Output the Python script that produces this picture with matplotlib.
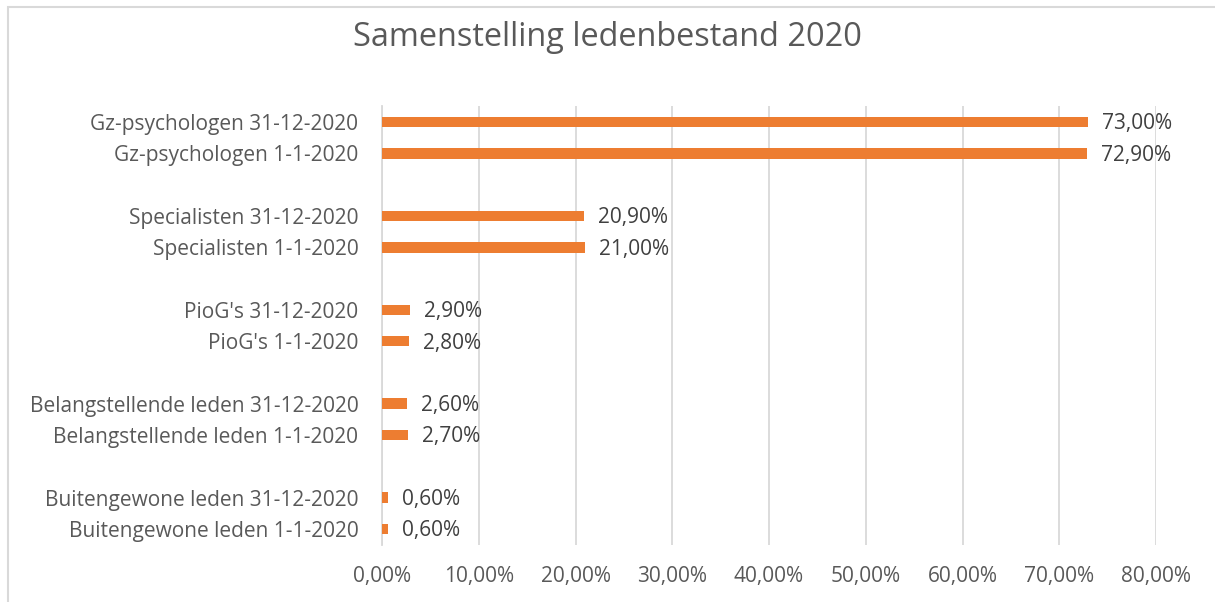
import numpy as np
import matplotlib.pyplot as plt
from matplotlib.patches import Rectangle
from matplotlib.ticker import FuncFormatter

plt.rcParams['font.family'] = ['Open Sans', 'DejaVu Sans']

# categorieën van boven naar onder, lege rijen tussen de groepen
categories = [
    'Gz-psychologen 31-12-2020', 'Gz-psychologen 1-1-2020', '',
    'Specialisten 31-12-2020', 'Specialisten 1-1-2020', '',
    "PioG's 31-12-2020", "PioG's 1-1-2020", '',
    'Belangstellende leden 31-12-2020', 'Belangstellende leden 1-1-2020', '',
    'Buitengewone leden 31-12-2020', 'Buitengewone leden 1-1-2020',
]
values = [73.0, 72.9, None,
          20.9, 21.0, None,
          2.9, 2.8, None,
          2.6, 2.7, None,
          0.6, 0.6]
xticks = [0, 10, 20, 30, 40, 50, 60, 70, 80]

orange = '#ED7D31'
grey_text = '#595959'

fig = plt.figure(figsize=(12.15, 6.02), dpi=100)
# rand van de grafiek
fig.patches.append(Rectangle((8 / 1215, -0.1), 1.2, 1 - 7 / 602 + 0.1,
                             transform=fig.transFigure, fill=False,
                             edgecolor='#D9D9D9', linewidth=1.5))

ax = fig.add_axes([382 / 1215, 1 - 544.7 / 602, 774 / 1215, 438.4 / 602])

y = np.arange(len(categories))
for yi, v in zip(y, values):
    if v is None:
        continue
    ax.barh(yi, v, height=0.34, color=orange, zorder=3)
    ax.text(v + 1.45, yi + 0.06, f'{v:.2f}%'.replace('.', ','), va='center',
            ha='left', fontsize=15, color='#404040', zorder=4)

ax.set_ylim(len(categories) - 0.5, -0.5)
ax.set_xlim(0, 80)
ax.set_yticks(y)
ax.set_yticklabels(categories, fontsize=15, color=grey_text)
ax.set_xticks(xticks)
ax.xaxis.set_major_formatter(FuncFormatter(lambda x, p: f'{x:.2f}%'.replace('.', ',')))
ax.tick_params(axis='x', labelsize=15, labelcolor=grey_text, length=0, pad=15)
ax.tick_params(axis='y', length=0, pad=17)
ax.grid(axis='x', color='#D9D9D9', linewidth=1.3, zorder=0)
for s in ['top', 'right', 'bottom']:
    ax.spines[s].set_visible(False)
ax.spines['left'].set_color('#D9D9D9')
ax.spines['left'].set_linewidth(1.3)

fig.text(0.5, 1 - 38 / 602, 'Samenstelling ledenbestand 2020', ha='center',
         va='center', fontsize=23.4, color=grey_text)

fig.savefig('out.png', dpi=100)
